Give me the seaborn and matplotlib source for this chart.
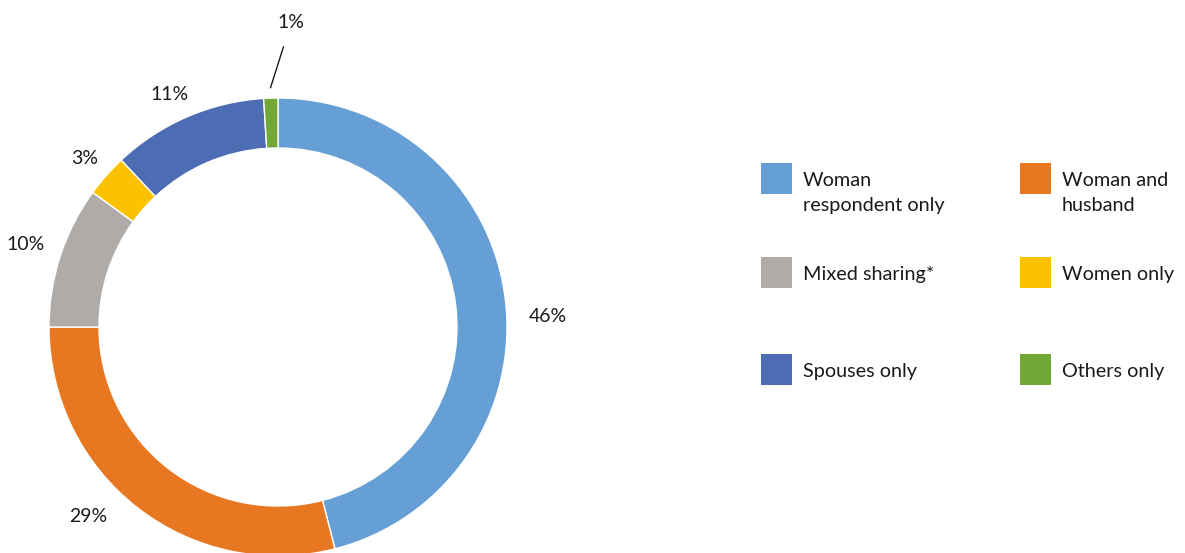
import numpy as np
import seaborn as sns
import matplotlib.pyplot as plt
from matplotlib.patches import Rectangle

sns.set_theme(style="white")
plt.rcParams['font.family'] = ['Lato', 'DejaVu Sans']

# Who decides / shares (percent of respondents)
categories = ["Woman\nrespondent only", "Woman and\nhusband", "Mixed sharing*",
              "Women only", "Spouses only", "Others only"]
shares = [46, 29, 10, 3, 11, 1]
colors = ["#659fd5", "#e87722", "#afaba8", "#fcc200", "#4c6db3", "#72a836"]

# legend layout: (column, row) of each category
legend_cells = [(0, 0), (1, 0), (0, 1), (1, 1), (0, 2), (1, 2)]

W, H = 1185, 553
fig = plt.figure(figsize=(W / 100, H / 100), dpi=100)
ax = fig.add_axes([0, 0, 1, 1])

cx, cy, R = 278, H - 327, 229
wedges, texts, autotexts = ax.pie(
    shares, colors=sns.color_palette(colors), startangle=90, counterclock=False,
    center=(cx, cy), radius=R, autopct='%.0f%%', pctdistance=1.16,
    wedgeprops=dict(width=50, edgecolor='white', linewidth=1),
    textprops=dict(fontsize=14, color='#1a1a1a'))

# label placement as in the original (pixel positions, y from top)
label_pos = [(548, 316), (88, 516), (26, 245), (85, 158), (170, 94)]
for t, (lx, ly) in zip(autotexts, label_pos):
    t.set_position((lx, H - ly))

# small slice: label moved up with a leader line
w = wedges[-1]
mid = np.deg2rad((w.theta1 + w.theta2) / 2)
tip = (cx + R * 1.045 * np.cos(mid), cy + R * 1.045 * np.sin(mid))
autotexts[-1].set_visible(False)
ax.annotate(autotexts[-1].get_text(), xy=tip, xytext=(291, H - 23),
            ha='center', va='center', fontsize=14, color='#1a1a1a',
            arrowprops=dict(arrowstyle='-', color='#1a1a1a', lw=1,
                            shrinkA=9, shrinkB=0))

# legend drawn as a grid of swatches
col_x = [761, 1020]
row_top = [163, 257, 354]
for lab, col, (c, r) in zip(categories, colors, legend_cells):
    x0, top = col_x[c], row_top[r]
    ax.add_patch(Rectangle((x0, H - top - 31), 31, 31, facecolor=col,
                           edgecolor='none'))
    ax.text(x0 + 42, H - top - 9, lab, ha='left', va='top', fontsize=14.3,
            color='#1a1a1a', linespacing=1.55)

ax.set_xlim(0, W)
ax.set_ylim(0, H)
ax.set_aspect('equal')
ax.axis('off')

fig.savefig('out.png', dpi=100)
